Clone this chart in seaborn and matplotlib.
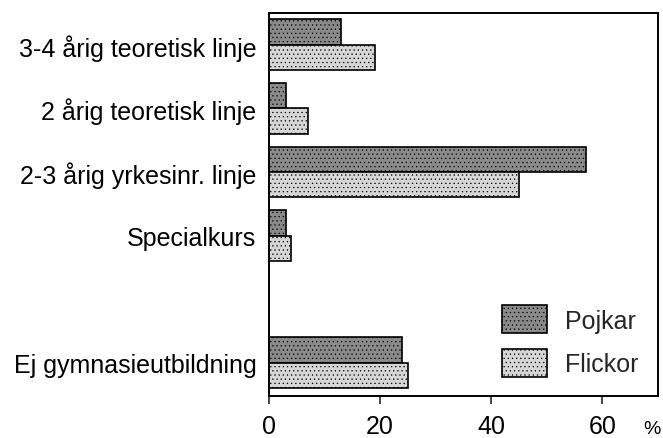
import pandas as pd
import numpy as np
import seaborn as sns
import matplotlib.pyplot as plt

# kategorier (tom rad mellan Specialkurs och Ej gymnasieutbildning)
kategorier = ['3-4 årig teoretisk linje', '2 årig teoretisk linje',
              '2-3 årig yrkesinr. linje', 'Specialkurs', '',
              'Ej gymnasieutbildning']
pojkar = [13, 3, 57, 3, np.nan, 24]
flickor = [19, 7, 45, 4, np.nan, 25]
x_ticks = [0, 20, 40, 60]

df = pd.DataFrame({
    'linje': kategorier * 2,
    'procent': pojkar + flickor,
    'kon': ['Pojkar'] * len(kategorier) + ['Flickor'] * len(kategorier),
})

sns.set_style('ticks')
plt.rcParams['font.family'] = ['Liberation Sans', 'DejaVu Sans']
plt.rcParams['hatch.linewidth'] = 0.4

fig = plt.figure(figsize=(6.63, 4.39), dpi=100)
ax = fig.add_axes([0.4057, 0.0957, 0.5867, 0.8724])

sns.barplot(data=df, y='linje', x='procent', hue='kon', order=kategorier,
            hue_order=['Pojkar', 'Flickor'],
            palette={'Pojkar': '#8a8a8a', 'Flickor': '#d6d6d6'},
            orient='h', width=0.8, edgecolor='black', linewidth=1.2,
            saturation=1, ax=ax)

# lite raster som i originalet
for bar in ax.patches:
    bar.set_hatch('....')

ax.set_xlim(0, 70)
ax.set_ylim(5.52, -0.5)
ax.set_xticks(x_ticks)
ax.set_xlabel('')
ax.set_ylabel('')

for side in ['top', 'right', 'left', 'bottom']:
    ax.spines[side].set_visible(True)
    ax.spines[side].set_color('black')
    ax.spines[side].set_linewidth(1.4)

ax.tick_params(axis='y', length=0, pad=9, labelsize=18, labelcolor='black')
ax.tick_params(axis='x', length=6, width=1.2, direction='out', pad=7,
               labelsize=18, labelcolor='black')

handles, labels = ax.get_legend_handles_labels()
for h in handles:
    h.set_hatch('....')
ax.legend(handles, labels, loc='lower left', bbox_to_anchor=(0.60, 0.05),
          frameon=False, fontsize=18, handlelength=1.8, handleheight=1.35,
          labelspacing=0.62, handletextpad=0.7, borderpad=0, borderaxespad=0)

fig.text(643 / 663, 1 - 434 / 439, '%', fontsize=14, va='baseline', ha='left',
         color='black')

fig.savefig('out.png', dpi=100)
